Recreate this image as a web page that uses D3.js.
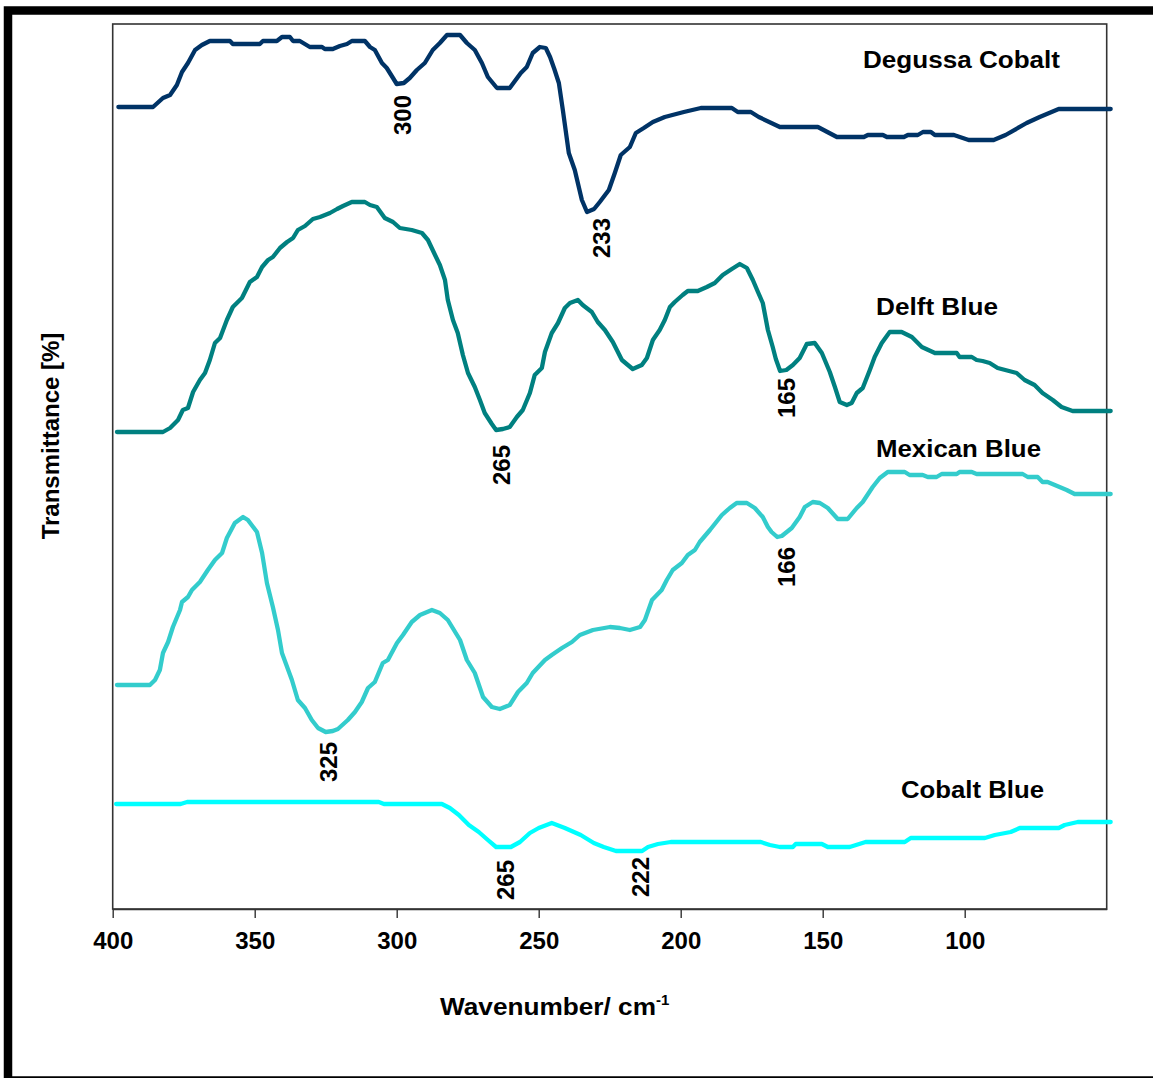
<!DOCTYPE html>
<html>
<head>
<meta charset="utf-8">
<script src="https://cdn.jsdelivr.net/npm/d3@7"></script>
<style>
  body { margin: 0; background: #fff; }
  text { font-family: "Liberation Sans", Arial, Helvetica, sans-serif; font-weight: bold; fill: #000; }
</style>
</head>
<body>
<svg id="chart" width="1153" height="1078"></svg>
<script>
// ---- Data: far-IR transmittance spectra (wavenumber in cm-1, transmittance in arbitrary offset units) ----
const xTicks = [400, 350, 300, 250, 200, 150, 100];
const seriesNames = ["Degussa Cobalt", "Delft Blue", "Mexican Blue", "Cobalt Blue"];

const degussaCobalt = [
  [398,80.2],[385.8,80.2],[382.3,81.1],[379.8,81.4],[377.4,82.4],[375.6,83.7],[373.5,84.6],[371.0,85.9],
  [368.6,86.4],[365.8,86.8],[358.7,86.8],[357.7,86.5],[348.2,86.5],[347.1,86.8],[342.2,86.8],[340.4,87.2],
  [337.6,87.2],[336.5,86.8],[334.1,86.8],[330.6,86.2],[326.3,86.2],[325.3,86.0],[322.5,86.0],[320.0,86.3],
  [317.5,86.5],[315.8,86.8],[311.2,86.8],[309.4,86.2],[307.7,85.9],[305.2,84.6],[303.5,84.1],[301.3,83.1],
  [300,82.5],[297.5,82.6],[295.4,83.1],[292.9,83.9],[290.1,84.6],[287.3,85.9],[284.8,86.6],[282.3,87.4],
  [277.7,87.4],[275.3,86.6],[272.5,85.9],[270.0,84.6],[267.9,83.2],[264.7,82.1],[260.2,82.1],[256.3,83.6],
  [254.2,84.2],[252.1,85.6],[249.6,86.2],[247.5,86.1],[246.0,85.2],[244.5,84.0],[242.9,82.6],[241.5,79.9],[239.4,75.6],
  [237.3,73.9],[234.8,70.9],[233,69.7],[230.5,70.0],[228.5,70.7],[225.3,71.9],[223.2,73.6],[221.1,75.4],
  [217.9,76.2],[215.8,77.6],[213.0,78.1],[209.8,78.7],[205.6,79.2],[198.9,79.7],[192.9,80.1],[182.0,80.1],
  [179.9,79.7],[175.3,79.7],[172.5,79.2],[165.1,78.2],[151.7,78.2],[145.0,77.2],[135.5,77.2],[134.1,77.4],
  [128.8,77.4],[127.4,77.2],[121.4,77.2],[120.0,77.4],[116.5,77.4],[114.7,77.7],[111.9,77.7],[110.5,77.4],
  [103.8,77.4],[98.6,76.9],[89.8,76.9],[85.6,77.4],[78.2,78.6],[73.6,79.2],[66.9,80.0],[48.6,80.0]
];

const delftBlue = [
  [398.5,47.7],[382.3,47.7],[379.8,48.1],[377.0,48.9],[375.3,49.9],[373.5,50.1],[371.7,51.7],[369.3,52.9],
  [367.5,53.6],[365.8,54.9],[364.0,56.6],[362.2,57.1],[359.8,58.9],[357.7,60.2],[354.5,61.1],[351.7,62.7],
  [349.2,63.2],[347.4,64.2],[345.3,64.9],[343.6,65.2],[341.1,66.1],[338.6,66.7],[336.5,67.1],[334.8,67.9],
  [332.3,68.3],[329.5,69.0],[327.0,69.2],[323.5,69.6],[321.0,70.0],[318.9,70.3],[315.8,70.7],[311.2,70.7],
  [309.4,70.4],[307.0,70.2],[304.2,69.1],[301.3,68.7],[298.9,68.1],[294.7,67.9],[291.1,67.6],[289.0,66.9],
  [286.5,65.4],[284.8,64.4],[283.0,62.9],[282.0,60.9],[280.2,58.9],[278.5,57.6],[276.7,55.4],[274.9,53.6],
  [272.5,52.2],[270.7,50.9],[269.0,49.6],[266.5,48.5],[265,47.9],[262.6,48.0],[260.2,48.2],[257.7,49.2],
  [255.6,49.9],[253.1,51.6],[251.4,53.4],[248.9,54.1],[247.8,55.7],[245.4,57.6],[243.2,58.6],[240.8,60.1],
  [239.0,60.6],[236.2,60.9],[234.5,60.4],[231.3,59.7],[229.2,58.7],[226.7,57.9],[223.9,56.7],[220.7,54.9],
  [218.6,54.4],[216.9,54.0],[213.7,54.4],[211.9,55.1],[209.8,56.9],[207.4,57.9],[205.6,58.9],[203.8,60.2],
  [202.1,60.7],[199.3,61.4],[197.5,61.8],[194.0,61.8],[190.8,62.2],[188.0,62.6],[185.2,63.4],[182.0,64.0],
  [179.2,64.5],[176.7,64.1],[174.6,62.9],[172.8,61.7],[171.1,60.6],[169.3,57.9],[167.6,56.2],[166.5,55.0],
  [165,53.8],[162.8,53.9],[160.5,54.4],[158.1,55.1],[155.6,56.5],[152.8,56.6],[150.3,55.6],[147.5,53.7],
  [145.7,52.2],[144.0,50.7],[141.5,50.4],[139.8,50.6],[138.0,51.6],[135.9,52.1],[133.4,53.9],[131.7,55.2],
  [129.2,56.6],[126.4,57.7],[122.2,57.7],[118.6,57.2],[115.1,56.2],[110.5,55.6],[102.8,55.6],[101.8,55.2],
  [97.5,55.2],[95.8,54.9],[93.7,54.8],[91.2,54.6],[88.4,54.1],[81.7,53.6],[78.9,52.9],[75.4,52.4],
  [72.6,51.6],[69.0,50.9],[65.9,50.2],[62.0,49.8],[48.6,49.8]
];

const mexicanBlue = [
  [398.5,22.4],[386.9,22.4],[385.1,22.9],[383.4,23.9],[382.3,25.6],[380.5,26.7],[378.8,28.2],[376.3,29.9],
  [375.6,30.7],[373.5,31.2],[372.1,31.9],[369.3,32.7],[366.5,33.9],[364.0,34.9],[361.5,35.6],[359.8,37.1],
  [357.0,38.6],[354.1,39.2],[352.4,38.9],[349.2,37.7],[347.4,35.6],[345.7,32.6],[343.6,30.2],[341.8,27.9],
  [340.4,25.6],[336.9,22.9],[334.8,20.9],[332.3,20.1],[329.9,18.9],[327.7,18.1],[325,17.7],[322.5,17.8],
  [320.7,18.0],[317.2,18.9],[314.7,19.7],[312.3,20.7],[310.1,22.1],[307.7,22.7],[304.9,24.6],[303.1,24.9],
  [299.9,26.6],[297.8,27.4],[294.7,28.7],[291.8,29.4],[287.6,29.9],[284.8,29.6],[282.0,28.9],[277.7,26.9],
  [275.3,24.9],[272.5,23.6],[269.6,21.2],[266.5,20.2],[263.7,20.0],[260.2,20.4],[257.3,21.7],[254.2,22.6],
  [252.1,23.6],[247.8,24.9],[245.4,25.4],[241.8,26.1],[238.3,26.7],[235.5,27.4],[230.9,27.9],[224.9,28.2],
  [221.4,28.1],[217.9,27.9],[214.3,28.2],[212.6,28.9],[210.1,30.9],[206.7,31.9],[204.9,32.9],[202.8,33.9],
  [199.6,34.6],[197.5,35.4],[195.0,35.9],[193.3,36.7],[189.7,37.9],[185.5,39.4],[182.7,40.1],[180.3,40.6],
  [176.7,40.6],[173.9,40.1],[171.1,39.2],[169.3,38.2],[168,37.7],[166,37.2],[164.4,37.3],[160.9,38.1],
  [158.1,39.2],[156.3,40.2],[153.5,40.7],[151.0,40.6],[148.2,40.1],[144.7,39.0],[141.2,39.0],[138.0,40.1],
  [135.9,40.7],[132.4,42.2],[129.9,43.1],[127.1,43.7],[121.1,43.7],[119.4,43.4],[114.8,43.4],[113.0,43.2],
  [109.9,43.2],[108.1,43.5],[102.8,43.5],[101.8,43.7],[97.5,43.7],[95.8,43.5],[79.6,43.5],[77.8,43.2],
  [74.3,43.2],[72.6,42.7],[70.8,42.7],[66.6,42.2],[64.1,41.9],[61.3,41.5],[48.6,41.5]
];

const cobaltBlue = [
  [398.8,10.5],[376.1,10.5],[373.8,10.7],[306.3,10.7],[304.5,10.5],[284.1,10.5],[281.3,10.1],[278.1,9.4],
  [274.6,8.4],[271.1,7.7],[267.9,6.9],[265,6.2],[259.8,6.2],[256.6,6.7],[253.1,7.6],[250.0,8.1],
  [245.4,8.6],[240.8,8.1],[235.2,7.4],[230.6,6.6],[227.1,6.2],[222.8,5.8],[213.6,5.8],[211.5,6.2],
  [208.0,6.5],[203.5,6.7],[171.8,6.7],[168.6,6.4],[165.1,6.2],[160.5,6.2],[159.5,6.5],[150.3,6.5],
  [148.2,6.2],[140.5,6.2],[134.9,6.7],[121.1,6.7],[119.0,7.1],[92.9,7.1],[89.4,7.4],[83.8,7.7],
  [80.6,8.1],[66.9,8.1],[64.8,8.4],[60.2,8.7],[48.6,8.7]
];

// Band positions marked on the spectra (cm-1)
const peakSeries = ["Degussa Cobalt", "Degussa Cobalt", "Delft Blue", "Delft Blue", "Mexican Blue", "Mexican Blue", "Cobalt Blue", "Cobalt Blue"];
const peakValues = [300, 233, 265, 165, 325, 166, 265, 222];

// ---- Layout ----
const W = 1153, H = 1078;
const plot = { left: 112.7, right: 1106.7, top: 24, bottom: 909 };
const colors = {
  "Degussa Cobalt": "#003366",
  "Delft Blue": "#008080",
  "Mexican Blue": "#33CCCC",
  "Cobalt Blue": "#00FFFF"
};
// series label placement: [x, baseline y, text length]
const nameLayout = {
  "Degussa Cobalt": [863, 68, 197],
  "Delft Blue": [876, 315, 122],
  "Mexican Blue": [876, 457, 165],
  "Cobalt Blue": [901, 798, 143]
};
// band label nudges: horizontal shift and gap below the curve minimum (px)
const peakNudge = [[6, 11], [14, 6], [5, 15], [6, 7], [3, 10], [9, 10], [9, 13], [22, 6]];

const svg = d3.select("#chart");
const x = d3.scaleLinear().domain([400, 50]).range([plot.left, plot.right]);
const y = d3.scaleLinear().domain([0, 88.5]).range([plot.bottom, plot.top]);

// outer frame
svg.append("rect")
  .attr("x", 8).attr("y", 10.5).attr("width", W + 10).attr("height", H - 8)
  .attr("fill", "none").attr("stroke", "#000").attr("stroke-width", 8.5);

// plot box
svg.append("rect")
  .attr("x", plot.left).attr("y", plot.top)
  .attr("width", plot.right - plot.left).attr("height", plot.bottom - plot.top)
  .attr("fill", "none").attr("stroke", "#333").attr("stroke-width", 1.6);

// x axis
const xAxis = d3.axisBottom(x).tickValues(xTicks).tickSize(9).tickPadding(14).tickSizeOuter(0);
const gx = svg.append("g").attr("transform", `translate(0,${plot.bottom})`).call(xAxis);
gx.select(".domain").attr("stroke", "#333").attr("stroke-width", 1.6);
gx.selectAll(".tick line").attr("stroke", "#333").attr("stroke-width", 1.4);
gx.selectAll(".tick text")
  .style("font-family", '"Liberation Sans", Arial, sans-serif')
  .style("font-weight", "bold").style("font-size", "24px").attr("fill", "#000");

// spectra
const allSeries = {
  "Degussa Cobalt": degussaCobalt,
  "Delft Blue": delftBlue,
  "Mexican Blue": mexicanBlue,
  "Cobalt Blue": cobaltBlue
};
const line = d3.line().x(d => x(d[0])).y(d => y(d[1])).curve(d3.curveLinear);

seriesNames.forEach(name => {
  svg.append("path")
    .datum(allSeries[name])
    .attr("d", line)
    .attr("fill", "none")
    .attr("stroke", colors[name])
    .attr("stroke-width", 4.3)
    .attr("stroke-linejoin", "round")
    .attr("stroke-linecap", "round");
});

// series names
seriesNames.forEach(name => {
  const [lx, ly, len] = nameLayout[name];
  svg.append("text")
    .attr("x", lx).attr("y", ly)
    .attr("textLength", len).attr("lengthAdjust", "spacingAndGlyphs")
    .style("font-size", "23px")
    .text(name);
});

// band labels, rotated, under each marked minimum
peakValues.forEach((v, i) => {
  const data = allSeries[peakSeries[i]];
  const near = data.filter(d => Math.abs(d[0] - v) <= 3);
  const minV = d3.min(near, d => d[1]);
  const [dx, gap] = peakNudge[i];
  const px = x(v) + dx;
  const py = y(minV) + gap;
  svg.append("text")
    .attr("transform", `translate(${px},${py}) rotate(-90)`)
    .attr("text-anchor", "end")
    .attr("dy", "0.36em")
    .style("font-size", "24px")
    .text(v);
});

// axis titles
svg.append("text")
  .attr("transform", "translate(59,436) rotate(-90)")
  .attr("text-anchor", "middle")
  .style("font-size", "24px")
  .text("Transmittance [%]");

const xt = svg.append("text")
  .attr("x", 440).attr("y", 1015)
  .style("font-size", "24px");
xt.append("tspan").attr("textLength", 216).attr("lengthAdjust", "spacingAndGlyphs").text("Wavenumber/ cm");
xt.append("tspan").attr("dy", -10).style("font-size", "15px").text("-1");
</script>
</body>
</html>
